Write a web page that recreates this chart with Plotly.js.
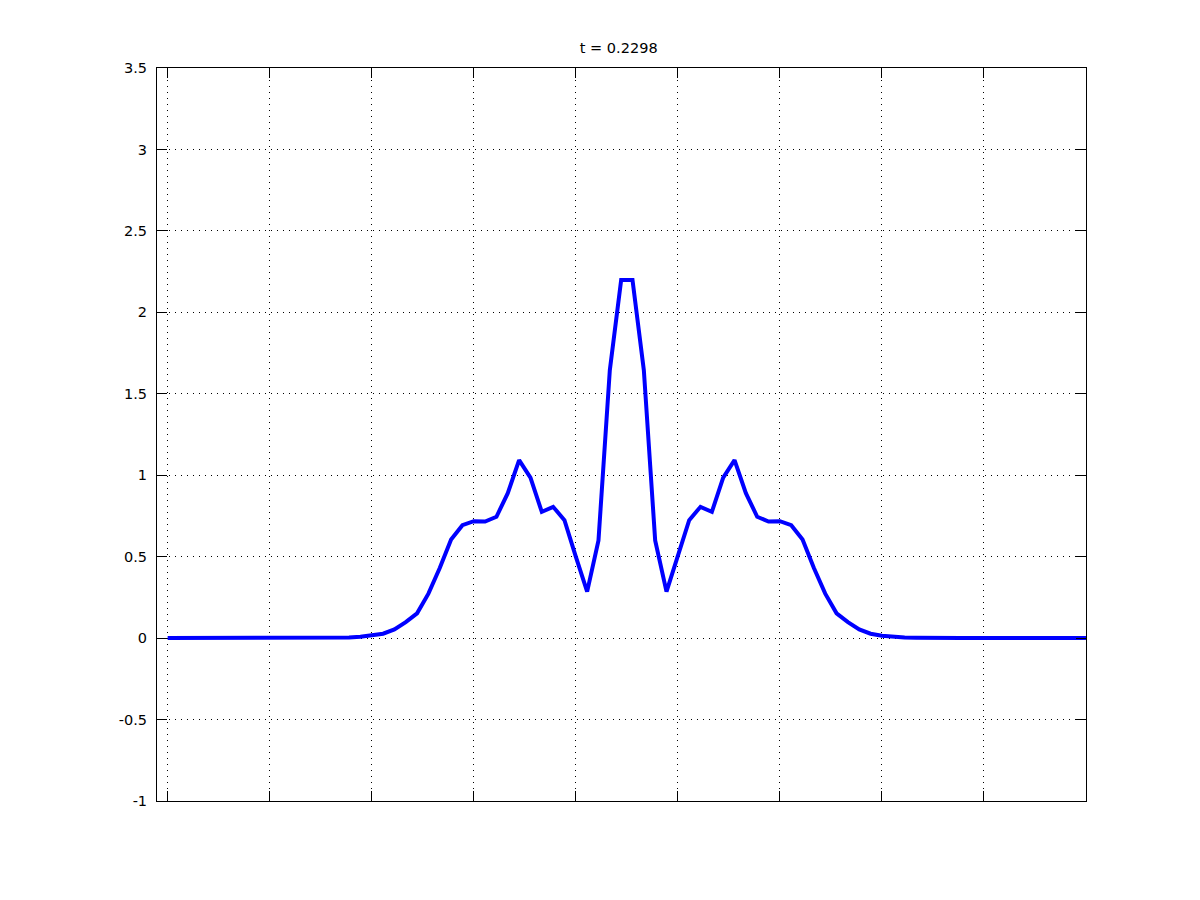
<!DOCTYPE html>
<html>
<head>
<meta charset="utf-8">
<script src="https://cdn.plot.ly/plotly-3.0.1.min.js"></script>
<style>html,body{margin:0;padding:0;background:#fff;}#chart{width:1200px;height:900px;}</style>
</head>
<body>
<div id="chart"></div>
<script>
const titleText = "t = 0.2298";
const yValues = [
  0, 0, 0, 0, 0, 0, 0, 0, 0, 0,
  0, 0, 0, 0, 0, 0.002, 0.004, 0.008, 0.015, 0.027,
  0.053, 0.098, 0.152, 0.273, 0.43, 0.605, 0.693, 0.718, 0.716, 0.745,
  0.89, 1.093, 0.985, 0.775, 0.806, 0.724, 0.5, 0.285, 0.6, 1.645,
  2.198, 2.198, 1.645, 0.6, 0.285, 0.5, 0.724, 0.806, 0.775, 0.985,
  1.093, 0.89, 0.745, 0.716, 0.718, 0.693, 0.605, 0.43, 0.273, 0.152,
  0.098, 0.053, 0.027, 0.015, 0.008, 0.004, 0.002, 0, 0, 0,
  0, 0, 0, 0, 0, 0, 0, 0, 0, 0,
  0, 0
];
const yTickVals = [-1, -0.5, 0, 0.5, 1, 1.5, 2, 2.5, 3, 3.5];
const yTickText = ["-1", "-0.5", "0", "0.5", "1", "1.5", "2", "2.5", "3", "3.5"];
const xTickVals = [0, 9, 18, 27, 36, 45, 54, 63, 72, 81];

const font = {family: "DejaVu Sans, Liberation Sans, Arial, sans-serif", size: 14.5, color: "#000"};

Plotly.newPlot("chart", [{
  y: yValues,
  x0: 0, dx: 1,
  type: "scatter",
  mode: "lines",
  line: {color: "rgb(0,0,255)", width: 4},
  hoverinfo: "skip"
}], {
  width: 1200, height: 900,
  paper_bgcolor: "#fff", plot_bgcolor: "#fff",
  showlegend: false,
  margin: {l: 157, r: 114, t: 68, b: 99, pad: 0},
  font: font,
  title: {text: titleText, font: font, x: 0.497, xref: "paper", xanchor: "center", y: 0.947, yref: "container", yanchor: "middle"},
  xaxis: {
    range: [-0.94, 81],
    tickmode: "array", tickvals: xTickVals,
    showticklabels: false,
    ticks: "inside", ticklen: 10, tickwidth: 1, tickcolor: "#000",
    showline: true, linecolor: "#000", linewidth: 1, mirror: "ticks",
    showgrid: true, gridcolor: "#000", gridwidth: 1, griddash: "1px,5px",
    zeroline: false
  },
  yaxis: {
    range: [-1, 3.5],
    tickmode: "array", tickvals: yTickVals, ticktext: yTickText,
    ticks: "inside", ticklen: 10, tickwidth: 1, tickcolor: "#000",
    ticklabelstandoff: 6,
    showline: true, linecolor: "#000", linewidth: 1, mirror: "ticks",
    showgrid: true, gridcolor: "#000", gridwidth: 1, griddash: "1px,5px",
    zeroline: false,
    tickfont: font
  }
}, {displayModeBar: false, staticPlot: true});
</script>
</body>
</html>
